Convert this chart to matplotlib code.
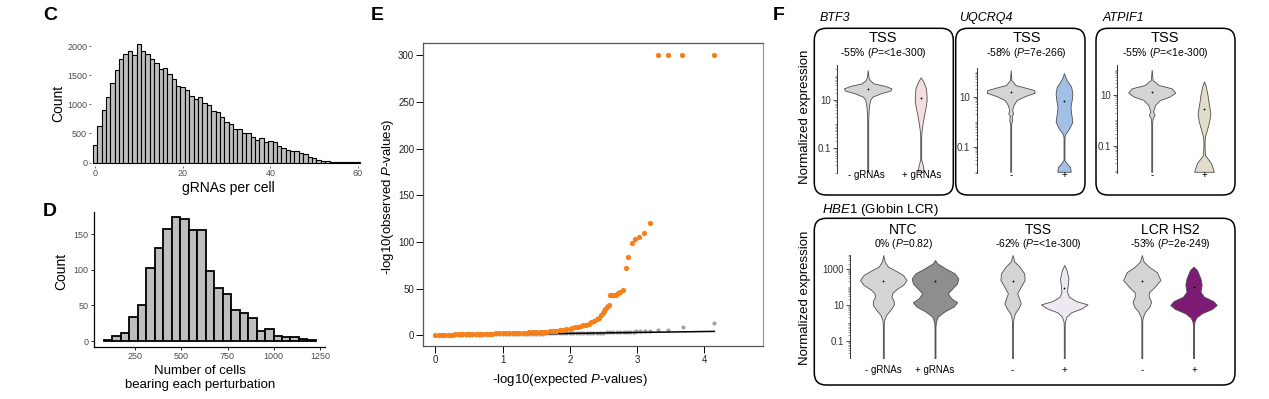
import numpy as np
import matplotlib
matplotlib.use("Agg")
import matplotlib.pyplot as plt
from matplotlib.patches import FancyBboxPatch
from matplotlib.transforms import IdentityTransform
from matplotlib.ticker import FixedLocator, FixedFormatter, LogLocator, NullFormatter

plt.rcParams['font.family'] = ['Liberation Sans', 'DejaVu Sans']
plt.rcParams['mathtext.fontset'] = 'custom'
plt.rcParams['mathtext.rm'] = 'Liberation Sans'
plt.rcParams['mathtext.it'] = 'Liberation Sans:italic'

# ---- data: C, gRNAs per cell histogram
c_gRNAs = np.arange(61)
c_counts = [300, 630, 900, 1130, 1360, 1590, 1770, 1870, 1920, 1850,
            2030, 1920, 1870, 1780, 1700, 1600, 1620, 1520, 1440, 1320,
            1290, 1240, 1150, 1090, 1130, 1020, 990, 890, 860, 780,
            690, 655, 570, 570, 500, 500, 440, 390, 420, 360,
            370, 350, 280, 245, 220, 200, 200, 170, 140, 100,
            80, 50, 25, 20, 14, 8, 5, 3, 2, 1, 1]

# ---- data: D, cells per perturbation histogram
d_counts = [2, 7, 11, 34, 51, 103, 131, 158, 174, 172, 156, 156, 98,
            74, 66, 44, 40, 32, 14, 17, 7, 6, 5, 3, 1]
d_range = (82, 1228)

# ---- data: E, QQ plot
e_orange_x = [0.00, 0.05, 0.10, 0.15, 0.20, 0.25, 0.30, 0.35, 0.40, 0.45, 0.50, 0.55,
              0.60, 0.65, 0.70, 0.75, 0.80, 0.85, 0.90, 0.95, 1.00, 1.05, 1.10, 1.15,
              1.20, 1.25, 1.30, 1.35, 1.40, 1.45, 1.50, 1.55, 1.60, 1.65, 1.70, 1.75,
              1.80, 1.85, 1.90, 1.95, 2.00, 2.04, 2.08, 2.12, 2.16, 2.20, 2.24, 2.28,
              2.32, 2.36, 2.40, 2.44, 2.47, 2.49, 2.51, 2.53, 2.55, 2.57, 2.58,
              2.60, 2.62, 2.64, 2.66, 2.69, 2.72, 2.75, 2.79, 2.83, 2.87, 2.92,
              2.97, 3.03, 3.11, 3.20, 3.31, 3.46, 3.67, 4.15]
e_orange_y = [0.3, 0.4, 0.5, 0.6, 0.7, 0.8, 0.9, 0.95, 1.0, 1.1, 1.2, 1.3,
              1.4, 1.45, 1.5, 1.6, 1.7, 1.8, 1.9, 2.0, 2.1, 2.2, 2.3, 2.4,
              2.5, 2.6, 2.8, 2.9, 3.0, 3.2, 3.4, 3.6, 3.8, 4.0, 4.3, 4.6,
              5.0, 5.4, 5.9, 6.4, 7.0, 7.7, 8.6, 9.2, 9.8, 10.6, 11.4, 12.4,
              13.8, 15.2, 17.3, 19.0, 21.5, 24.0, 26.0, 28.0, 30.0, 31.5, 32.5,
              42.9, 42.9, 42.9, 43.0, 43.5, 45.0, 46.7, 48.5, 72.5, 83.6, 99.2,
              102.9, 105.0, 109.3, 120.7, 300, 300, 300, 300]
e_grey_x = [0.00, 0.05, 0.10, 0.15, 0.20, 0.25, 0.30, 0.35, 0.40, 0.45, 0.50, 0.55,
            0.60, 0.65, 0.70, 0.75, 0.80, 0.85, 0.90, 0.95, 1.00, 1.05, 1.10, 1.15,
            1.20, 1.25, 1.30, 1.35, 1.40, 1.45, 1.50, 1.55, 1.60, 1.65, 1.70, 1.75,
            1.80, 1.85, 1.90, 1.95, 2.00, 2.05, 2.10, 2.15, 2.20, 2.25, 2.30, 2.35,
            2.40, 2.45, 2.50, 2.55, 2.60, 2.65, 2.70, 2.75, 2.80, 2.85, 2.90, 2.95,
            2.99, 3.05, 3.12, 3.20, 3.31, 3.46, 3.68, 4.15]
e_grey_y = [0.0, 0.05, 0.1, 0.15, 0.2, 0.3, 0.35, 0.4, 0.45, 0.5, 0.55, 0.6,
            0.7, 0.75, 0.8, 0.85, 0.9, 1.0, 1.05, 1.1, 1.15, 1.2, 1.25, 1.3,
            1.4, 1.45, 1.5, 1.55, 1.6, 1.7, 1.75, 1.8, 1.85, 1.9, 2.0, 2.05,
            2.1, 2.15, 2.2, 2.3, 2.35, 2.4, 2.45, 2.5, 2.6, 2.65, 2.7, 2.75,
            2.8, 2.9, 2.95, 3.0, 3.1, 3.15, 3.2, 3.3, 3.4, 3.5, 3.6, 3.8,
            4.2, 4.4, 4.5, 4.6, 5.3, 5.7, 8.6, 12.9]
e_line_x = [0, 4.15]
e_line_y = [0, 4.15]

# ---- data: F, violin outlines (log10 expression, relative half width) and means
btf3_neg_lvl = [2.24, 1.96, 1.83, 1.69, 1.58, 1.48, 1.39, 1.28, 1.14, 1.0, 0.79, 0.59, 0.17, -1.97]
btf3_neg_wid = [0.0, 0.03, 0.08, 0.25, 0.75, 1.0, 0.95, 0.55, 0.2, 0.1, 0.06, 0.04, 0.02, 0.02]
btf3_neg_mean = 1.44
btf3_pos_lvl = [1.94, 1.76, 1.52, 1.28, 1.0, 0.72, 0.38, 0.04, -0.24, -0.52, -1.48, -1.66, -1.83, -1.97]
btf3_pos_wid = [0.0, 0.11, 0.21, 0.24, 0.25, 0.21, 0.14, 0.08, 0.04, 0.02, 0.02, 0.08, 0.11, 0.11]
btf3_pos_mean = 1.10

uqcrq4_neg_lvl = [2.07, 1.67, 1.47, 1.37, 1.27, 1.16, 1.03, 0.87, 0.67, 0.47, 0.34, 0.23, 0.07, -0.07, -2.0]
uqcrq4_neg_wid = [0.0, 0.03, 0.2, 0.6, 0.97, 1.0, 0.6, 0.25, 0.12, 0.06, 0.1, 0.04, 0.06, 0.02, 0.02]
uqcrq4_neg_mean = 1.2
uqcrq4_pos_lvl = [1.94, 1.67, 1.4, 1.13, 0.87, 0.6, 0.33, 0.0, -0.26, -0.47, -0.6, -1.53, -1.67, -1.8, -2.0]
uqcrq4_pos_wid = [0.0, 0.11, 0.3, 0.35, 0.32, 0.27, 0.3, 0.35, 0.22, 0.06, 0.02, 0.02, 0.12, 0.25, 0.28]
uqcrq4_pos_mean = 0.83

atpif1_neg_lvl = [1.99, 1.59, 1.39, 1.26, 1.09, 0.93, 0.8, 0.61, 0.47, 0.34, 0.21, 0.08, -0.12, -2.03]
atpif1_neg_wid = [0.0, 0.04, 0.3, 0.85, 1.0, 0.75, 0.35, 0.15, 0.1, 0.06, 0.12, 0.04, 0.02, 0.02]
atpif1_neg_mean = 1.1
atpif1_pos_lvl = [1.53, 1.33, 1.0, 0.67, 0.28, -0.05, -0.38, -0.64, -0.9, -1.37, -1.69, -2.03]
atpif1_pos_wid = [0.0, 0.08, 0.15, 0.2, 0.27, 0.22, 0.12, 0.04, 0.02, 0.04, 0.3, 0.42]
atpif1_pos_mean = 0.45

ntc_neg_lvl = [3.78, 3.41, 3.13, 2.89, 2.66, 2.38, 2.11, 1.86, 1.64, 1.45, 1.21, 0.99, 0.71, 0.43, 0.15, -0.13, -1.99]
ntc_neg_wid = [0.0, 0.06, 0.2, 0.55, 0.85, 1.0, 0.85, 0.55, 0.38, 0.35, 0.45, 0.45, 0.3, 0.12, 0.04, 0.02, 0.02]
ntc_neg_mean = 2.33
ntc_pos_lvl = [3.5, 3.31, 3.03, 2.75, 2.47, 2.19, 1.92, 1.64, 1.36, 1.14, 0.9, 0.62, 0.34, 0.06, -0.22, -1.99]
ntc_pos_wid = [0.0, 0.1, 0.45, 0.85, 1.0, 0.95, 0.75, 0.55, 0.7, 0.95, 0.8, 0.4, 0.12, 0.04, 0.02, 0.02]
ntc_pos_mean = 2.33
tss_neg_lvl = [3.78, 3.41, 3.13, 2.75, 2.38, 2.0, 1.64, 1.36, 1.08, 0.8, 0.52, 0.24, -0.04, -1.99]
tss_neg_wid = [0.0, 0.08, 0.3, 0.5, 0.52, 0.35, 0.2, 0.28, 0.35, 0.25, 0.1, 0.04, 0.02, 0.02]
tss_neg_mean = 2.33
tss_pos_lvl = [3.22, 2.94, 2.47, 2.11, 1.73, 1.45, 1.21, 1.02, 0.8, 0.58, 0.34, 0.06, -0.22, -1.99]
tss_pos_wid = [0.0, 0.1, 0.18, 0.15, 0.12, 0.2, 0.5, 1.0, 0.75, 0.3, 0.1, 0.03, 0.02, 0.02]
tss_pos_mean = 1.92
lcr_neg_lvl = [3.78, 3.41, 3.13, 2.82, 2.38, 2.0, 1.69, 1.45, 1.17, 0.9, 0.62, 0.34, 0.06, -1.99]
lcr_neg_wid = [0.0, 0.08, 0.3, 0.65, 0.8, 0.55, 0.3, 0.3, 0.4, 0.33, 0.15, 0.05, 0.02, 0.02]
lcr_neg_mean = 2.33
lcr_pos_lvl = [3.13, 2.94, 2.47, 2.11, 1.73, 1.45, 1.21, 0.99, 0.77, 0.52, 0.28, 0.06, -0.22, -1.99]
lcr_pos_wid = [0.0, 0.15, 0.3, 0.35, 0.3, 0.45, 0.85, 1.0, 0.8, 0.35, 0.12, 0.04, 0.02, 0.02]
lcr_pos_mean = 2.0

W, H = 1269, 399
fig = plt.figure(figsize=(W / 100, H / 100), dpi=100)


def add_ax(x0, y0, x1, y1):
    # pixel box (top-left origin) -> figure axes
    return fig.add_axes([x0 / W, 1 - y1 / H, (x1 - x0) / W, (y1 - y0) / H])


def ftext(x, y, s, **kw):
    kw.setdefault('ha', 'center')
    kw.setdefault('va', 'center')
    fig.text(x / W, 1 - y / H, s, **kw)


def rbox(x0, y0, x1, y1):
    p = FancyBboxPatch((x0, H - y1), x1 - x0, y1 - y0,
                       boxstyle='round,pad=0,rounding_size=12',
                       transform=IdentityTransform(), fill=False, lw=1.1, ec='black')
    fig.add_artist(p)


grey_txt = '#4d4d4d'

# ---------------- C
ax_c = add_ax(90.6, 40.2, 362.4, 166)
ax_c.bar(c_gRNAs, c_counts, width=1, color='#bebebe', edgecolor='black', linewidth=0.8)
ax_c.set_xlim(-1.0, 61)
ax_c.set_ylim(-60, 2100)
for s in ax_c.spines.values():
    s.set_visible(False)
ax_c.set_xticks([0, 20, 40, 60])
ax_c.set_yticks([0, 500, 1000, 1500, 2000])
ax_c.tick_params(length=1.5, width=0.5, color='#333333', labelsize=6.5, labelcolor=grey_txt, pad=1)
ax_c.patch.set_alpha(0)
ftext(50, 16, 'C', fontsize=14, fontweight='bold', ha='center')
ftext(58, 103.5, 'Count', rotation=90, fontsize=10)
ftext(228, 188, 'gRNAs per cell', fontsize=10)

# ---------------- D
ax_d = add_ax(94.3, 211.7, 325, 346.7)
d_edges = np.linspace(d_range[0], d_range[1], len(d_counts) + 1)
ax_d.bar(d_edges[:-1], d_counts, width=np.diff(d_edges), align='edge',
         color='#bebebe', edgecolor='black', linewidth=1.3)
ax_d.set_xlim(30, 1277)
ax_d.set_ylim(-8, 181.6)
ax_d.spines['top'].set_visible(False)
ax_d.spines['right'].set_visible(False)
ax_d.spines['left'].set_linewidth(0.9)
ax_d.spines['bottom'].set_linewidth(0.9)
ax_d.set_xticks([250, 500, 750, 1000, 1250])
ax_d.set_yticks([0, 50, 100, 150])
ax_d.tick_params(length=2.5, width=0.6, labelsize=6.5, labelcolor=grey_txt, pad=1.5)
ax_d.patch.set_alpha(0)
ftext(50, 212, 'D', fontsize=14, fontweight='bold')
ftext(61, 271.7, 'Count', rotation=90, fontsize=10)
ftext(200, 378, 'Number of cells\nbearing each perturbation', fontsize=9.5, linespacing=1.15)

# ---------------- E
ax_e = add_ax(423.3, 43.3, 763, 346)
ax_e.plot(e_grey_x, e_grey_y, 'o', ms=3, color='#a3a3a3', mec='none')
ax_e.plot(e_line_x, e_line_y, '-', color='black', lw=1.1)
ax_e.plot(e_orange_x, e_orange_y, 'o', ms=3.8, color='#f7801a', mec='none')
ax_e.set_xlim(-0.178, 4.873)
ax_e.set_ylim(-11.5, 312.9)
ax_e.set_xticks([0, 1, 2, 3, 4])
ax_e.set_yticks([0, 50, 100, 150, 200, 250, 300])
for k, s in ax_e.spines.items():
    s.set_linewidth(0.9)
    s.set_color('#555555' if k != 'right' else '#999999')
ax_e.tick_params(length=5, width=0.7, labelsize=7, labelcolor='#222222', pad=1.5)
ftext(377, 16, 'E', fontsize=14, fontweight='bold')
ftext(570, 380, '-log10(expected $P$-values)', fontsize=9.5)
ftext(388, 197, '-log10(observed $P$-values)', rotation=90, fontsize=9.5)


# ---------------- F
def violin(ax, pos, lvl, wid, mean, color):
    y = 10 ** np.array(lvl)
    w = np.array(wid) * 0.45
    ax.fill_betweenx(y, pos - w, pos + w, facecolor=color, edgecolor='#4d4d4d', lw=0.6)
    ax.plot([pos], [10 ** mean], 'o', ms=1.3, color='black', mec='none')


def violin_axes(x0, y0, x1, y1, c1, ppu, ylog, ticks, labels):
    ax = add_ax(x0, y0, x1, y1)
    ax.set_yscale('log')
    ax.set_ylim(10 ** ylog[0], 10 ** ylog[1])
    ax.set_xlim(1 - (c1 - x0) / ppu, 1 + (x1 - c1) / ppu)
    for k in ['top', 'right', 'bottom']:
        ax.spines[k].set_visible(False)
    ax.spines['left'].set_color('#333333')
    ax.spines['left'].set_linewidth(0.7)
    ax.set_xticks([])
    ax.yaxis.set_major_locator(FixedLocator(ticks))
    ax.yaxis.set_major_formatter(FixedFormatter(labels))
    ax.yaxis.set_minor_locator(LogLocator(base=10, subs='all', numticks=60))
    ax.yaxis.set_minor_formatter(NullFormatter())
    ax.tick_params(axis='y', which='major', length=3, width=0.6, color='#333333',
                   labelsize=7, labelcolor='#333333', pad=1.5)
    ax.tick_params(axis='y', which='minor', length=1.5, width=0.4, color='#555555')
    ax.patch.set_alpha(0)
    return ax


grey_v = '#d4d4d4'

ftext(779, 16, 'F', fontsize=14, fontweight='bold')
ftext(805, 117, 'Normalized expression', rotation=90, fontsize=9.5)
ftext(805, 298, 'Normalized expression', rotation=90, fontsize=9.5)

rbox(814.3, 28.3, 953.3, 195)
rbox(955.7, 28.3, 1085, 195)
rbox(1096, 28.3, 1235, 195)
ftext(820, 18, 'BTF3', fontsize=9, fontstyle='italic', ha='left')
ftext(959, 18, 'UQCRQ4', fontsize=9, fontstyle='italic', ha='left')
ftext(1103, 18, 'ATPIF1', fontsize=9, fontstyle='italic', ha='left')

ax1 = violin_axes(837.3, 65, 952, 173, 867.7, 53, (-2.02, 2.45), [0.1, 10], ['0.1', '10'])
violin(ax1, 1, btf3_neg_lvl, btf3_neg_wid, btf3_neg_mean, grey_v)
violin(ax1, 2, btf3_pos_lvl, btf3_pos_wid, btf3_pos_mean, '#f5dede')
ax2 = violin_axes(976.7, 68.3, 1084, 173.3, 1010.7, 53.3, (-2.06, 2.14), [0.1, 10], ['0.1', '10'])
violin(ax2, 1, uqcrq4_neg_lvl, uqcrq4_neg_wid, uqcrq4_neg_mean, grey_v)
violin(ax2, 2, uqcrq4_pos_lvl, uqcrq4_pos_wid, uqcrq4_pos_mean, '#a2bfe6')
ax3 = violin_axes(1117.3, 65, 1233, 173.3, 1151.7, 52.3, (-2.09, 2.18), [0.1, 10], ['0.1', '10'])
violin(ax3, 1, atpif1_neg_lvl, atpif1_neg_wid, atpif1_neg_mean, grey_v)
violin(ax3, 2, atpif1_pos_lvl, atpif1_pos_wid, atpif1_pos_mean, '#e2ddc9')

for cx, pct in [(883.3, '-55% ($P$=<1e-300)'), (1026.7, '-58% ($P$=7e-266)'),
                (1165, '-55% ($P$=<1e-300)')]:
    ftext(cx, 38, 'TSS', fontsize=10.5)
    ftext(cx, 53, pct, fontsize=7.5)
for cx, s in [(866.7, '- gRNAs'), (921.7, '+ gRNAs'), (1010.7, '-'), (1064, '+'),
              (1151.7, '-'), (1204, '+')]:
    ftext(cx, 175, s, fontsize=7)

rbox(814.3, 218.3, 1235, 385)
ftext(821.7, 210, '$\\mathit{HBE1}$ (Globin LCR)', fontsize=9.5, ha='left')
ax4 = violin_axes(850, 255, 1230, 358.3, 883.3, 51.7, (-1.99, 3.78),
                  [0.1, 10, 1000], ['0.1', '10', '1000'])
violin(ax4, 1, ntc_neg_lvl, ntc_neg_wid, ntc_neg_mean, grey_v)
violin(ax4, 2, ntc_pos_lvl, ntc_pos_wid, ntc_pos_mean, '#8e8e8e')
violin(ax4, 3.5, tss_neg_lvl, tss_neg_wid, tss_neg_mean, grey_v)
violin(ax4, 4.5, tss_pos_lvl, tss_pos_wid, tss_pos_mean, '#eee8f2')
violin(ax4, 6, lcr_neg_lvl, lcr_neg_wid, lcr_neg_mean, grey_v)
violin(ax4, 7, lcr_pos_lvl, lcr_pos_wid, lcr_pos_mean, '#7e1b74')

for cx, name, pct in [(903.3, 'NTC', '0% ($P$=0.82)'), (1038.3, 'TSS', '-62% ($P$=<1e-300)'),
                      (1170, 'LCR HS2', '-53% ($P$=2e-249)')]:
    ftext(cx, 230, name, fontsize=10)
    ftext(cx, 244.3, pct, fontsize=7.5)
for cx, s in [(883.3, '- gRNAs'), (935, '+ gRNAs'), (1012.3, '-'), (1064, '+'),
              (1142.3, '-'), (1194.3, '+')]:
    ftext(cx, 370, s, fontsize=7)

fig.savefig('out.png', dpi=100)
